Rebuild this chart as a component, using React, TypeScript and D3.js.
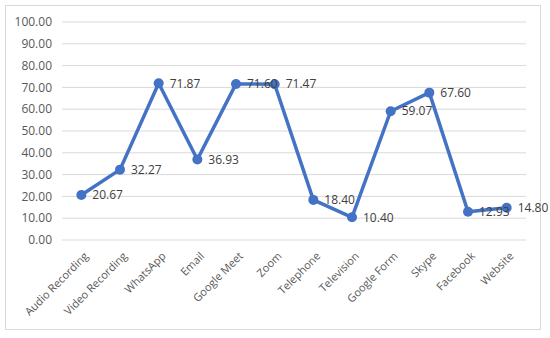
import React from "react";
import * as d3 from "d3";

const categories = [
  "Audio Recording",
  "Video Recording",
  "WhatsApp",
  "Email",
  "Google Meet",
  "Zoom",
  "Telephone",
  "Television",
  "Google Form",
  "Skype",
  "Facebook",
  "Website",
];
const values = [20.67, 32.27, 71.87, 36.93, 71.6, 71.47, 18.4, 10.4, 59.07, 67.6, 12.93, 14.8];
const yTicks = [0, 10, 20, 30, 40, 50, 60, 70, 80, 90, 100];

const W = 550;
const H = 338;
const left = 62;
const right = 526;
const top = 22;
const bottom = 240;

const App = () => {
  const x = d3.scaleBand().domain(categories).range([left, right]);
  const y = d3.scaleLinear().domain([0, 100]).range([bottom, top]);
  const cx = (c: string) => (x(c) as number) + x.bandwidth() / 2;

  const line = d3
    .line<number>()
    .x((d, i) => cx(categories[i]))
    .y((d) => y(d));

  const font = "Open Sans, Calibri, sans-serif";

  return (
    <svg
      width={W}
      height={H}
      style={{ position: "absolute", left: 0, top: 0 }}
      fontFamily={font}
    >
      <rect x={0} y={0} width={W} height={H} fill="white" />
      <rect x={5.5} y={5.5} width={535} height={324} fill="none" stroke="#d9d9d9" />
      {yTicks.map((t) => (
        <g key={t}>
          <line x1={left} x2={right} y1={y(t)} y2={y(t)} stroke="#d9d9d9" strokeWidth={1} />
          <text
            x={left - 10}
            y={y(t)}
            dy="0.35em"
            textAnchor="end"
            fontSize={12}
            fill="#595959"
          >
            {t.toFixed(2)}
          </text>
        </g>
      ))}
      {categories.map((c) => (
        <text
          key={c}
          transform={`translate(${cx(c) + 5},${bottom + 14}) rotate(-45)`}
          textAnchor="end"
          dy="0.35em"
          fontSize={11}
          fill="#595959"
        >
          {c}
        </text>
      ))}
      <path d={line(values) || ""} fill="none" stroke="#4472C4" strokeWidth={3.5} strokeLinejoin="round" />
      {values.map((v, i) => (
        <circle key={i} cx={cx(categories[i])} cy={y(v)} r={5} fill="#4472C4" />
      ))}
      {values.map((v, i) => (
        <text
          key={"l" + i}
          x={cx(categories[i]) + 11}
          y={y(v)}
          dy="0.35em"
          fontSize={12}
          fill="#404040"
        >
          {v.toFixed(2)}
        </text>
      ))}
    </svg>
  );
};

export default App;
